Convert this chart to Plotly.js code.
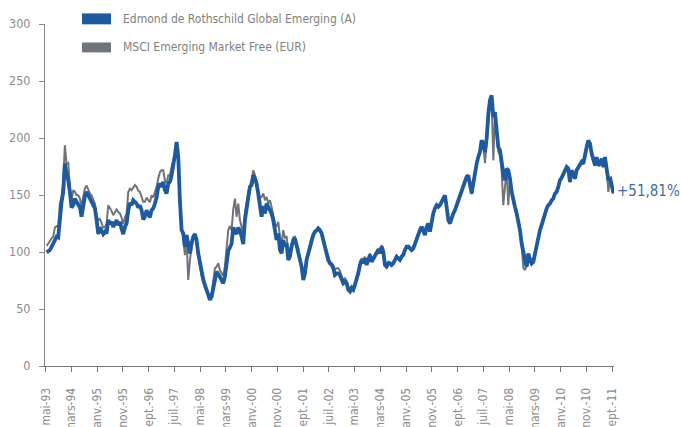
<!DOCTYPE html>
<html>
<head>
<meta charset="utf-8">
<script src="https://cdn.plot.ly/plotly-3.0.1.min.js"></script>
<style>html,body{margin:0;padding:0;background:#fff;}#chart{width:681px;height:427px;}</style>
</head>
<body>
<div id="chart"></div>
<script>
// Regular sampling of the two index series (base 100, May 1993)
var sampleStart = Date.UTC(1993, 4, 12);
var sampleStepDays = 19.71;

var fundValues = [
99.7,100.3,101.7,104.6,107,111,113.4,112.8,130.9,144,
152.7,177.5,168.8,163,152.7,139,141,146.9,144,141,
139,130.9,140.2,148.9,152.7,149.8,146.9,145.4,141,138.2,
128,115.7,121.5,118.6,115.7,117.7,116.3,128,124.5,126.5,
122.1,125,128,123.6,126.5,120.7,115.7,122.1,125,136.1,
143.1,141,145.4,144,142.5,139,141,136.7,128.5,130.9,
136.7,133.2,130.3,136.7,138.2,142.5,147.8,157.1,160,
157.1,161.5,154.2,151.3,160,161.5,167.3,174.6,184.8,196.5,
183.3,145.4,119.2,116.3,104.6,114.8,104.6,98.8,107.5,113.4,
115.7,110.5,98.8,90.1,81.3,76.1,71.1,66.7,62.4,58,
60.9,69.7,78.4,82.8,80.7,78.4,75.5,72.6,78.4,93,
101.1,104,107.5,121.5,118.6,115.7,121.5,118.6,113.4,107,
128,139,148.4,157.1,158.6,167.3,164.4,160,150.7,137.3,
130.9,140.2,133.8,142.5,139.6,136.7,133.8,128,119.2,
110.5,116.3,101.7,98.8,110.5,104.7,107.6,93,95.9,104.7,
110.5,112,106.1,101.7,93,87.2,75.5,81.3,93,98.8,
104.7,112,114.9,117.8,118.7,120.7,119.2,116.3,110.5,104.7,
98.8,93,90.1,88.6,85.7,79.9,81.3,81.3,79.9,75.5,
72.6,74,72.6,66.8,65.3,68.2,66.8,71.1,75.5,81.3,
88.6,93,90.1,94.5,88.6,93,97.4,91.5,94.5,95.9,
100.3,101.7,98.8,104.7,100.3,88.6,87.2,90.1,90.1,
88.6,90.1,93,95.9,94.4,93,95.9,97.4,101.7,104.7,
104.7,103.2,101.7,103.2,107.6,111.9,116.3,119.2,122.1,119.2,
114.9,122.1,125,117.8,128,133.8,138.2,141.1,139.6,141.1,
144,146.9,149.8,139.6,128,125,130.9,133.8,136.7,141.1,
144,148.4,152.8,157.1,163,165.9,167.3,160,151.3,160,
170.2,177.5,183.4,187.7,198,195,187.7,199.4,221.2,232.9,
237.3,218.3,222.7,209.6,192.1,189.2,177.5,168.8,163,
173.1,171.7,164.4,152.7,144,139.6,133.8,128,119.2,107.5,
98.8,93,87,98.8,93,90,91.5,98.8,107.5,114.8,
119.2,123.6,129.4,135.2,138.2,141.1,142.5,145.4,146.9,151.3,
152.7,157.1,162.9,165,168,171.7,174.6,173.1,161.5,171.7,
167.3,164.4,171.7,174.6,177.5,179,177.5,186.3,192.1,197.9,
195,186.3,180.4,176,183.3,176,177.5,181.9,174.6,183.3,
173.1,162.9,165.8,158.6,151.8
];

var benchValues = [
105.2,107.5,110.5,111.9,113.4,121.5,122.7,122.1,142.5,147.8,
163,193.5,177.5,178.1,157.1,145.4,154.2,152.7,149.8,149.8,
146.9,139,148.4,155.6,158.3,154.2,151.3,149.8,145.4,142.5,
132.3,127.4,129.4,124.5,121.5,121.5,125,141,139,136.1,
132.3,134.4,137.3,135,133.8,130.3,124.5,130.3,133.8,152.7,
155.6,154.2,157.1,158.8,157.1,153.6,152.7,147.8,144,144,
147.8,145.4,143.7,149.8,147.8,152.7,157.1,164.4,170.2,
171.7,171.7,162.9,160.6,167.3,167.3,174.6,179.8,186.3,195,
180.4,146.9,122.1,111.9,97.3,110.5,75.5,93,104.6,111,
113.9,108.1,95.9,87.1,78.4,72.6,68.2,65.3,62.4,60.3,
63.8,75.5,85.7,87.1,90.1,84.2,81.3,79,87.1,101.7,
119.2,122.7,119.2,137.3,146.9,130.9,142.5,128,122.7,116.3,
134.4,145.4,152.7,158.6,162.9,171.7,167.3,162.9,154.2,146.9,
148.4,151.3,145.4,148.4,142.5,145.4,139.6,130.9,125,
122.2,126.5,113.4,107.6,119.2,112,114,98.8,101.7,108.2,
112.8,113.4,107.6,103.2,94.5,88.6,77,83.7,94.5,100.3,
105.2,112.8,115.7,118.7,119.8,121.6,119.8,116.9,111.1,106.1,
100.3,95.3,91.5,90.1,88.6,84.3,85.7,85.7,83.7,78.4,
75.5,77,74.9,69.7,67.4,70.3,69.1,73.2,77.8,83.7,
90.1,94.5,91.5,95.9,90.1,94.5,98.8,93,95.9,97.4,
101.7,103.2,100.3,106.1,101.7,90.1,88.6,91.5,90.7,
89.5,91,93.5,96.5,95,93.8,96.5,98,102,105,
105.3,103.8,102.3,103.5,108,112.3,116.5,119.6,122.3,119.8,
115.5,122.4,125.3,118.5,128.2,134,138.5,141.3,140,141.3,
144.2,147,149.5,138.5,127,124.5,130.5,133.5,136.5,140.8,
143.5,148,152.5,156.8,162.5,165.5,166.8,158,150.5,159.5,
169.5,177,182.8,187,196.5,193.5,178,196,219,230,
234,180.4,218,205,188,185,172,141.1,160,
172,141,163.5,152,143.5,139,133,127,118.5,106.5,
86,84.2,88,97.5,92.5,94.5,90.5,98,106.5,114,
118.5,123,128.8,134.8,137.8,140.8,142.2,145,146.5,151,
152.3,156.5,162.5,164.5,167.5,171.3,174.2,172.5,161,171.3,
167,164,171.3,174.2,177,178.6,177,185.8,191.5,197.2,
194.5,185.8,180,175.5,182.8,175.5,177,181.5,174.2,182.8,
172.5,152.7,165,158,151
];

var tickDates = ['1993-05-01','1994-03-01','1995-01-01','1995-11-01','1996-09-01','1997-07-01',
'1998-05-01','1999-03-01','2000-01-01','2000-11-01','2001-09-01','2002-07-01','2003-05-01',
'2004-03-01','2005-01-01','2005-11-01','2006-09-01','2007-07-01','2008-05-01','2009-03-01',
'2010-01-01','2010-11-01','2011-09-01'];
var tickLabels = ['mai-93','mars-94','janv.-95','nov.-95','sept.-96','juil.-97','mai-98','mars-99',
'janv.-00','nov.-00','sept.-01','juil.-02','mai-03','mars-04','janv.-05','nov.-05','sept.-06',
'juil.-07','mai-08','mars-09','janv.-10','nov.-10','sept.-11'];
var yTicks = [0, 50, 100, 150, 200, 250, 300];

var seriesNames = ['Edmond de Rothschild Global Emerging (A)', 'MSCI Emerging Market Free (EUR)'];
var finalPerf = '+51,81%';

function datesFor(n) {
  var out = [];
  for (var i = 0; i < n; i++) {
    out.push(new Date(sampleStart + i * sampleStepDays * 86400000).toISOString().slice(0, 10));
  }
  return out;
}

var FONT = "'DejaVu Sans Condensed', 'DejaVu Sans', sans-serif";
var BLUE = '#1f5a9e';
var GRAY = '#6f747b';
var TXT = '#8c8c8c';

var traces = [
  {x: datesFor(benchValues.length), y: benchValues, type: 'scatter', mode: 'lines',
   line: {color: GRAY, width: 2}, name: seriesNames[1], hoverinfo: 'skip'},
  {x: datesFor(fundValues.length), y: fundValues, type: 'scatter', mode: 'lines',
   line: {color: BLUE, width: 3.8}, name: seriesNames[0], hoverinfo: 'skip'}
];

var layout = {
  width: 681, height: 427,
  margin: {l: 45, r: 67, t: 24, b: 61},
  paper_bgcolor: '#fff', plot_bgcolor: '#fff',
  showlegend: false,
  font: {family: FONT, color: TXT, size: 12},
  xaxis: {
    type: 'date', range: ['1993-04-23', '2011-09-24'],
    tickmode: 'array', tickvals: tickDates, ticktext: tickLabels,
    tickangle: -90, ticks: 'outside', ticklen: 5, tickcolor: '#777', tickwidth: 1,
    showline: true, linecolor: '#777', linewidth: 1,
    showgrid: false, zeroline: false,
    tickfont: {family: FONT, size: 12, color: TXT},
    ticklabelstandoff: 11, automargin: false, fixedrange: true
  },
  yaxis: {
    range: [0, 300], tickmode: 'array', tickvals: yTicks,
    ticks: 'outside', ticklen: 5, tickcolor: '#888', tickwidth: 1,
    showline: true, linecolor: '#888', linewidth: 1,
    showgrid: false, zeroline: false,
    tickfont: {family: FONT, size: 12.5, color: TXT},
    ticklabelstandoff: 6, automargin: false, fixedrange: true
  },
  shapes: [
    {type: 'rect', xref: 'paper', yref: 'paper', x0: 0.065, x1: 0.116, y0: 0.999, y1: 1.031,
     fillcolor: BLUE, line: {width: 0}},
    {type: 'rect', xref: 'paper', yref: 'paper', x0: 0.065, x1: 0.116, y0: 0.917, y1: 0.946,
     fillcolor: GRAY, line: {width: 0}}
  ],
  annotations: [
    {xref: 'paper', yref: 'paper', x: 0.1336, y: 1.015, xanchor: 'left', yanchor: 'middle',
     text: seriesNames[0], showarrow: false, font: {family: FONT, size: 12, color: '#808080'}},
    {xref: 'paper', yref: 'paper', x: 0.1336, y: 0.932, xanchor: 'left', yanchor: 'middle',
     text: seriesNames[1], showarrow: false, font: {family: FONT, size: 12, color: '#808080'}},
    {xref: 'paper', yref: 'y', x: 1.002, y: 153.3, xanchor: 'left', yanchor: 'middle',
     text: finalPerf, showarrow: false, font: {family: FONT, size: 15, color: '#3e6ca8'}}
  ]
};

Plotly.newPlot('chart', traces, layout, {displayModeBar: false, staticPlot: true});
</script>
</body>
</html>
